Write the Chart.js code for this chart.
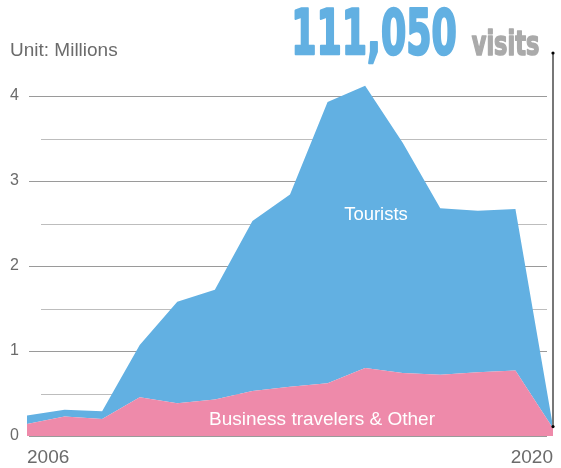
<!DOCTYPE html>
<html>
<head>
<meta charset="utf-8">
<script src="https://cdn.jsdelivr.net/npm/chart.js@4.4.1/dist/chart.umd.min.js"></script>
<style>
  html, body { margin: 0; padding: 0; background: #fff; }
  #wrap { width: 561px; height: 468px; position: relative; }
</style>
</head>
<body>
<div id="wrap"><canvas id="visitsChart"></canvas></div>
<script>
// Data (millions of visits)
const years = ['2006', '2007', '2008', '2009', '2010', '2011', '2012', '2013', '2014', '2015', '2016', '2017', '2018', '2019', '2020'];
const business = [0.14, 0.23, 0.20, 0.455, 0.385, 0.43, 0.53, 0.58, 0.62, 0.80, 0.74, 0.72, 0.75, 0.77, 0.09];
const tourists = [0.10, 0.08, 0.09, 0.615, 1.195, 1.29, 2.00, 2.26, 3.31, 3.32, 2.71, 1.96, 1.90, 1.90, 0.021];
const yTicks = [0, 1, 2, 3, 4];

const BLUE = '#62b0e2';
const PINK = '#ee8aaa';
const FONT = '"Liberation Sans", Arial, Helvetica, sans-serif';

// Draws heavy text squeezed horizontally to a given width
function drawFitted(ctx, text, x, y, width, font, color, weight) {
    ctx.save();
    ctx.font = font;
    const w = ctx.measureText(text).width;
    ctx.translate(x + weight / 2, y);
    ctx.scale((width - weight) / w, 1);
    ctx.fillStyle = color;
    ctx.strokeStyle = color;
    ctx.lineWidth = weight;
    ctx.lineJoin = 'round';
    ctx.textBaseline = 'alphabetic';
    ctx.textAlign = 'left';
    ctx.fillText(text, 0, 0);
    ctx.strokeText(text, 0, 0);
    ctx.restore();
}

const gridPlugin = {
    id: 'customGrid',
    beforeDatasetsDraw(chart) {
        const { ctx, chartArea, scales } = chart;
        const y = scales.y;
        ctx.save();
        ctx.lineWidth = 1;
        y.ticks.filter(t => t.value <= 4).forEach(t => {
            const major = Number.isInteger(t.value);
            const py = Math.round(y.getPixelForValue(t.value)) + 0.5;
            ctx.strokeStyle = major ? '#9a9a9a' : '#bdbdbd';
            ctx.beginPath();
            ctx.moveTo(chartArea.left + (major ? 2 : 14), py);
            ctx.lineTo(chartArea.right - 6, py);
            ctx.stroke();
        });
        ctx.restore();
    }
};

const textPlugin = {
    id: 'annotations',
    afterDraw(chart) {
        const { ctx, scales } = chart;
        const last = years.length - 1;
        const px = scales.x.getPixelForValue(last);
        const pyBottom = scales.y.getPixelForValue(business[last] + tourists[last]);
        const pyTop = 53;

        // leader line to the headline number
        ctx.save();
        ctx.strokeStyle = '#777';
        ctx.lineWidth = 2;
        ctx.beginPath();
        ctx.moveTo(px, pyTop);
        ctx.lineTo(px, pyBottom);
        ctx.stroke();
        ctx.fillStyle = '#000';
        [pyTop, pyBottom].forEach(py => {
            ctx.beginPath();
            ctx.arc(px, py, 1.6, 0, Math.PI * 2);
            ctx.fill();
        });

        // unit label
        ctx.font = '19px ' + FONT;
        ctx.fillStyle = '#6b6b6b';
        ctx.textAlign = 'left';
        ctx.textBaseline = 'alphabetic';
        ctx.fillText('Unit: Millions', 10, 56);

        // headline
        drawFitted(ctx, '111,050', 290, 54, 168, 'bold 63px "DejaVu Sans Condensed", "DejaVu Sans", sans-serif', BLUE, 2.5);
        drawFitted(ctx, 'visits', 471, 54.5, 69, 'bold 33px "DejaVu Sans Condensed", "DejaVu Sans", sans-serif', '#aaaaaa', 1.5);

        // series labels
        ctx.fillStyle = '#ffffff';
        ctx.textAlign = 'center';
        ctx.font = '18.5px ' + FONT;
        ctx.fillText('Tourists', 376, 220);
        ctx.font = '19px ' + FONT;
        ctx.fillText('Business travelers & Other', 322, 425);
        ctx.restore();
    }
};

document.addEventListener('DOMContentLoaded', function() {
    const ctx = document.getElementById('visitsChart');
    new Chart(ctx.getContext('2d'), {
        type: 'line',
        data: {
            labels: years,
            datasets: [{
                label: 'Business travelers & Other',
                data: business,
                backgroundColor: PINK,
                borderWidth: 0,
                pointRadius: 0,
                fill: 'origin'
            },
            {
                label: 'Tourists',
                data: tourists,
                backgroundColor: BLUE,
                borderWidth: 0,
                pointRadius: 0,
                fill: '-1'
            }]
        },
        options: {
            responsive: true,
            maintainAspectRatio: false,
            animation: false,
            events: [],
            layout: {
                padding: { top: 53.5, left: 10, right: 8, bottom: 4 }
            },
            plugins: {
                legend: { display: false },
                tooltip: { enabled: false }
            },
            scales: {
                x: {
                    offset: false,
                    grid: { display: false, drawTicks: false },
                    border: { display: false },
                    afterFit: function(scale) { scale.height = 28; scale.paddingLeft = 0; scale.paddingRight = 0; },
                    ticks: {
                        autoSkip: false,
                        maxRotation: 0,
                        align: 'inner',
                        padding: 10,
                        color: '#6b6b6b',
                        font: { family: FONT, size: 19 },
                        callback: function(value, index) {
                            return (index === 0 || index === years.length - 1) ? years[index] : '';
                        }
                    }
                },
                y: {
                    stacked: true,
                    min: 0,
                    max: 4.5,
                    grid: { display: false, drawTicks: false },
                    border: { display: false },
                    afterFit: function(scale) { scale.width = 17; scale.paddingTop = 0; scale.paddingBottom = 0; },
                    ticks: {
                        stepSize: 0.5,
                        padding: 8,
                        color: '#6b6b6b',
                        font: { family: FONT, size: 16 },
                        callback: function(value) {
                            return yTicks.includes(value) ? String(value) : '';
                        }
                    }
                }
            }
        },
        plugins: [gridPlugin, textPlugin]
    });
});
</script>
</body>
</html>
